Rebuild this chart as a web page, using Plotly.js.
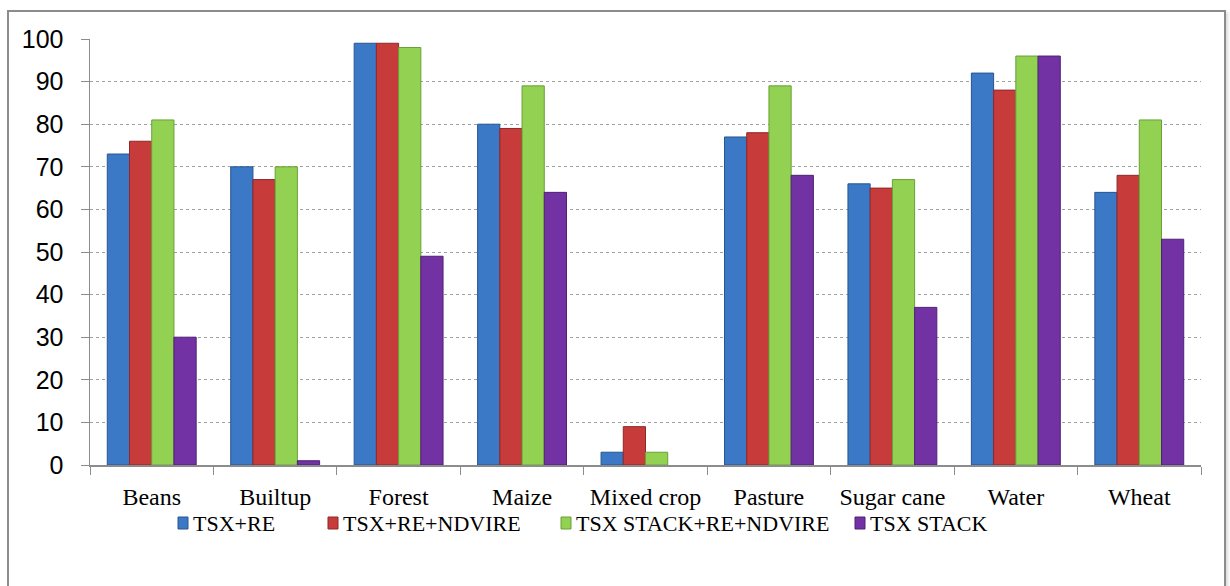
<!DOCTYPE html>
<html>
<head>
<meta charset="utf-8">
<script src="https://cdn.plot.ly/plotly-3.0.1.min.js"></script>
<style>
html,body{margin:0;padding:0;background:#fff;}
#frame{position:absolute;left:7px;top:10px;width:1219px;height:580px;border:2px solid #8c8c8c;box-sizing:border-box;box-shadow:2px 2px 3px rgba(0,0,0,0.15);}
#chart{position:absolute;left:0;top:0;width:1230px;height:586px;}
</style>
</head>
<body>
<div id="frame"></div>
<div id="chart"></div>
<script>
var categories = ["Beans","Builtup","Forest","Maize","Mixed crop","Pasture","Sugar cane","Water","Wheat"];
var seriesNames = ["TSX+RE","TSX+RE+NDVIRE","TSX STACK+RE+NDVIRE","TSX STACK"];
var tsxRe        = [73, 70, 99, 80, 3, 77, 66, 92, 64];
var tsxReNdvire  = [76, 67, 99, 79, 9, 78, 65, 88, 68];
var stackReNdvire= [81, 70, 98, 89, 3, 89, 67, 96, 81];
var tsxStack     = [30, 1, 49, 64, 0, 68, 37, 96, 53];
var yTicks = [0,10,20,30,40,50,60,70,80,90,100];

var fills = ["#3b79c6","#c73b3b","#93d152","#7332a3"];
var edges = ["#28558f","#8f2828","#68a036","#4f2075"];
var values = [tsxRe, tsxReNdvire, stackReNdvire, tsxStack];

var traces = values.map(function(v,i){
  return {
    type:"bar", x:categories, y:v, name:seriesNames[i],
    marker:{color:fills[i], line:{color:edges[i], width:v.map(function(d){return d>0?1:0;})}},
    hoverinfo:"y", showlegend:false
  };
});

var serif = "Liberation Serif";
var sans = "Liberation Sans";

// plot-area geometry (pixels) used to place the legend row below the axis
var W = 1230, H = 586, mL = 90, mR = 29, mT = 39, mB = 121;
var pw = W - mL - mR, ph = H - mT - mB;
function px2x(p){ return (p - mL) / pw; }
function px2y(p){ return (H - mB - p) / ph; }
var legendKeyLeft = [178, 328, 561, 855];
var legendMidY = 523;

var shapes = [], annotations = [];
seriesNames.forEach(function(n, i){
  shapes.push({type:"rect", xref:"paper", yref:"paper",
    x0:px2x(legendKeyLeft[i]), x1:px2x(legendKeyLeft[i]+10),
    y0:px2y(legendMidY+6), y1:px2y(legendMidY-6),
    fillcolor:fills[i], line:{color:edges[i], width:1}});
  annotations.push({xref:"paper", yref:"paper", x:px2x(legendKeyLeft[i]+13), y:px2y(legendMidY),
    xanchor:"left", yanchor:"middle", text:n, showarrow:false,
    font:{family:serif, size:22, color:"#000"}});
});

var layout = {
  width:W, height:H,
  margin:{l:mL, r:mR, t:mT, b:mB},
  paper_bgcolor:"rgba(0,0,0,0)", plot_bgcolor:"rgba(0,0,0,0)",
  font:{family:serif, color:"#000"},
  barmode:"group", bargap:0.28, bargroupgap:0,
  showlegend:false,
  shapes:shapes, annotations:annotations,
  xaxis:{
    type:"category", tickson:"boundaries", ticks:"outside", ticklen:8, tickcolor:"#8c8c8c",
    showline:true, linecolor:"#8c8c8c", linewidth:1.5, showgrid:false,
    tickfont:{family:serif, size:24, color:"#000"}, ticklabelstandoff:10
  },
  yaxis:{
    range:[0,100], tickvals:yTicks, ticktext:yTicks.map(String),
    ticks:"outside", ticklen:8, tickcolor:"#8c8c8c",
    showline:true, linecolor:"#8c8c8c", linewidth:1.5,
    showgrid:true, gridcolor:"#a0a0a0", griddash:"dot", gridwidth:1,
    zeroline:false, ticklabelstandoff:12,
    tickfont:{family:sans, size:25, color:"#000"}
  }
};

Plotly.newPlot("chart", traces, layout, {displayModeBar:false, staticPlot:true});
</script>
</body>
</html>
